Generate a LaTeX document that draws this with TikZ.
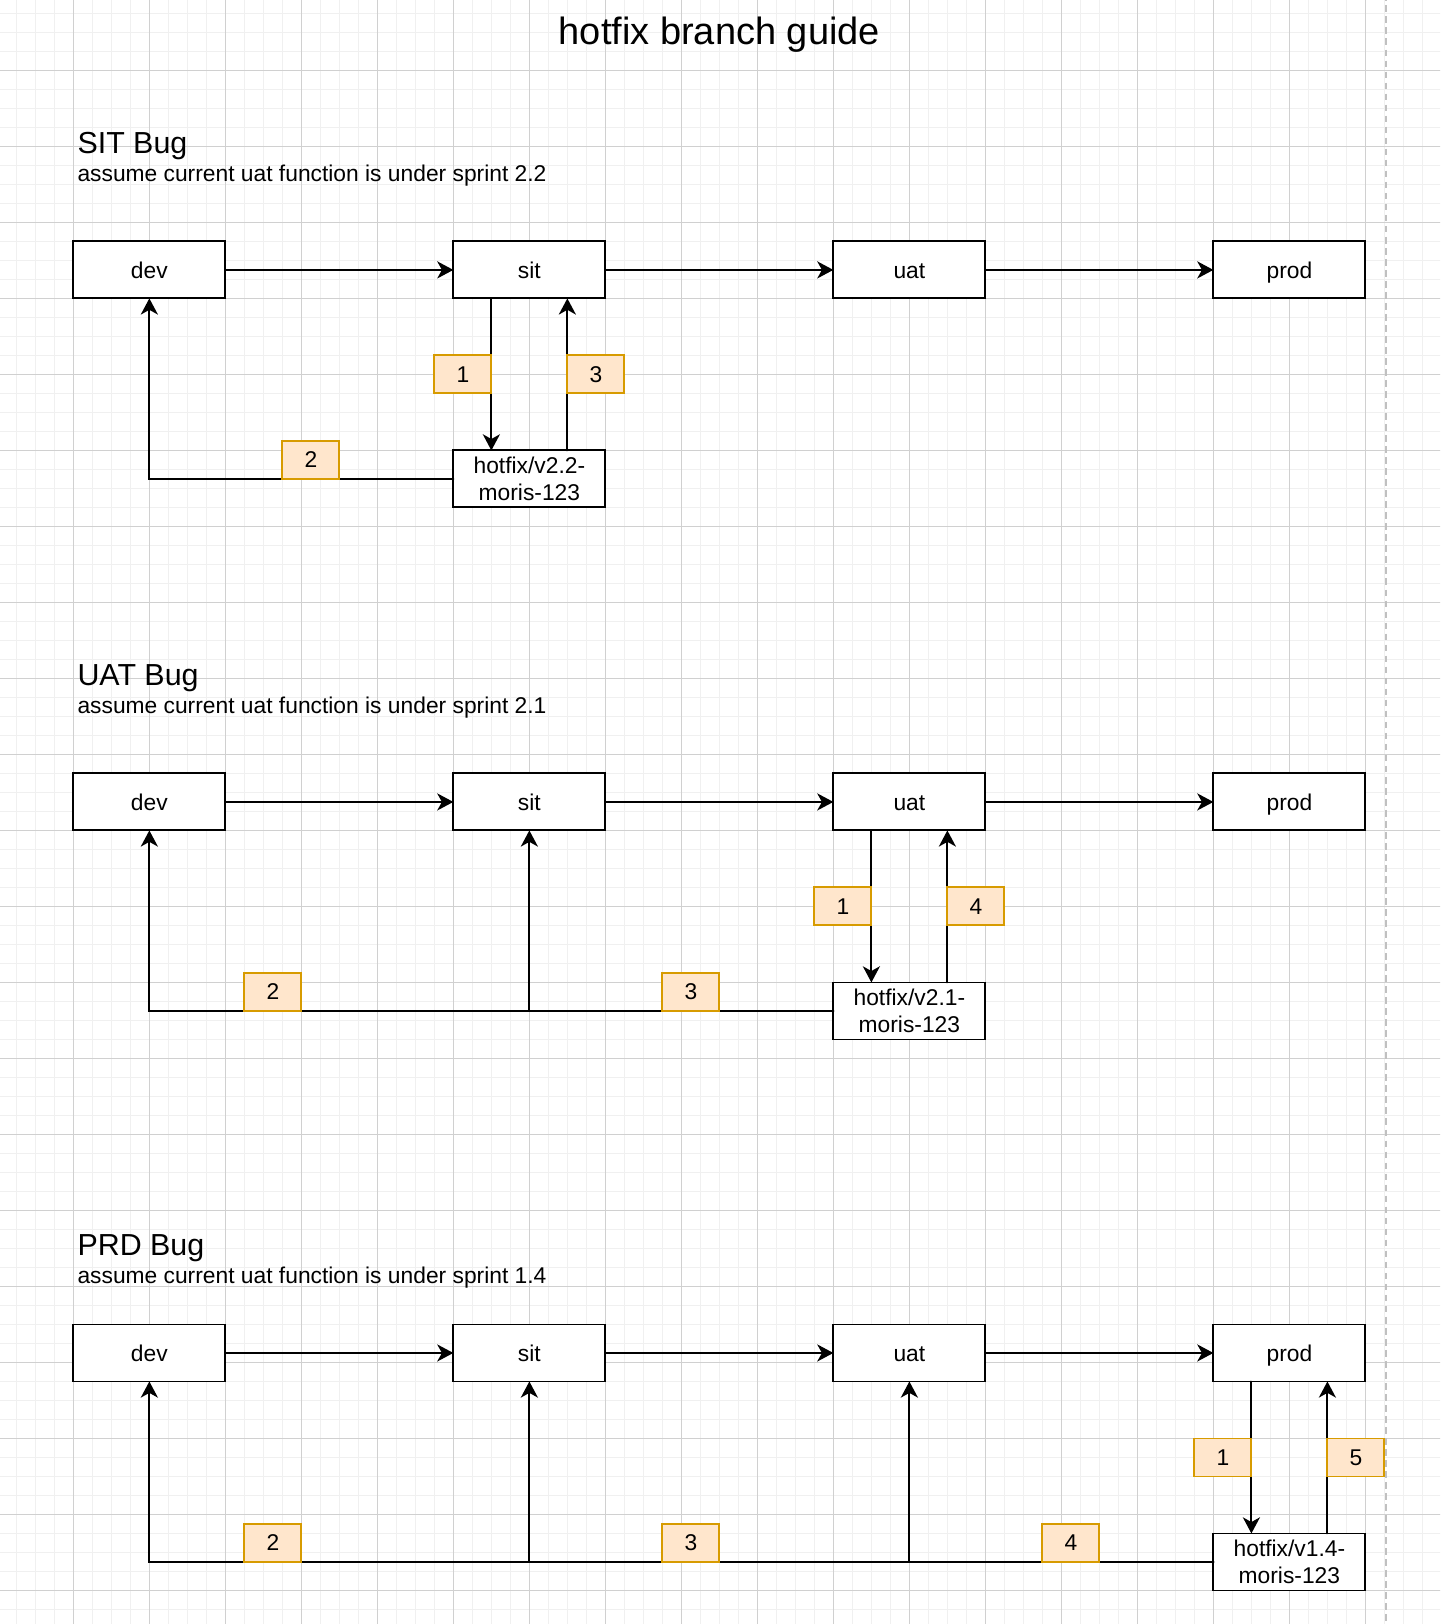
\documentclass[tikz,border=0pt]{standalone}
\usepackage{fontspec}
\setmainfont{Liberation Sans}
\usepackage{tikz}
\usetikzlibrary{arrows.meta,positioning}
\usepackage{xcolor}
\definecolor{tagfill}{HTML}{FFE6CC}
\definecolor{tagline}{HTML}{D79B00}
\definecolor{gridfine}{HTML}{F0F0F0}
\definecolor{gridbold}{HTML}{D0D0D0}
\definecolor{pageedge}{HTML}{C0C0C0}
\tikzset{
  mergearrow/.style={-{Stealth[length=8.5pt,width=9pt,inset=2.5pt]},line width=1pt,draw=black},
  envbox/.style={draw,line width=1pt,fill=white,minimum width=80pt,minimum height=30pt,inner sep=0pt,outer sep=0pt,align=center,font=\fontsize{12}{14.4}\selectfont},
  stagebox/.style={envbox,text height=8.6pt,text depth=0pt},
  steptag/.style={draw=tagline,fill=tagfill,line width=1pt,minimum width=30pt,minimum height=20pt,inner sep=0pt,outer sep=0pt,font=\fontsize{12}{14.4}\selectfont},
  minorline/.style={draw=gridfine,line width=0.8pt},
  majorline/.style={draw=gridbold,line width=0.5pt}
}

\begin{document}
\begin{tikzpicture}[x=1pt,y=-1pt,node distance=120pt,line cap=round]
  \useasboundingbox (1.4,2.95) rectangle (759.3,857.65);
  \clip (1.4,2.95) rectangle (759.3,857.65);
  % background grid
  \foreach \gx in {0,10,...,760} \draw[minorline] (\gx,0) -- (\gx,860);
  \foreach \gy in {0,10,...,860} \draw[minorline] (0,\gy) -- (760,\gy);
  \foreach \gx in {0,40,...,760} \draw[majorline] (\gx,0) -- (\gx,860);
  \foreach \gy in {0,40,...,840} \draw[majorline] (0,\gy) -- (760,\gy);
  \draw[draw=pageedge,line width=1pt,line cap=butt,dash pattern=on 3.5pt off 2.3pt] (731,0) -- (731,860);
  % title
  \node (title) [anchor=base,inner sep=0pt,font=\fontsize{20}{24}\selectfont] at (380,26.6) {hotfix branch guide};

  % SIT bug
  \node (head1) [anchor=base west,inner sep=0pt,font=\fontsize{16}{19.2}\selectfont] at (42,83.6) {SIT Bug};
  \node (note1) [anchor=base west,inner sep=0pt,font=\fontsize{12}{14.4}\selectfont] at (42,98.6) {assume current uat function is under sprint 2.2};
  \node (dev1) [stagebox] at (80,145) {dev};
  \node (sit1) [stagebox,right=of dev1] {sit};
  \node (uat1) [stagebox,right=of sit1] {uat};
  \node (prod1) [stagebox,right=of uat1] {prod};
  \node (fix1) [envbox,below=80pt of sit1] {hotfix/v2.2-\\moris-123};
  \draw[mergearrow] (dev1) -- (sit1);
  \draw[mergearrow] (sit1) -- (uat1);
  \draw[mergearrow] (uat1) -- (prod1);
  \draw[mergearrow] ([xshift=-20pt]sit1.south) -- ([xshift=-20pt]fix1.north);
  \draw[mergearrow] ([xshift=20pt]fix1.north) -- ([xshift=20pt]sit1.south);
  \draw[mergearrow] (fix1.west) -| (dev1.south);
  \node (tag11) [steptag] at (245,200) {1};
  \node (tag12) [steptag] at (165,245) {2};
  \node (tag13) [steptag] at (315,200) {3};

  % UAT bug
  \node (head2) [anchor=base west,inner sep=0pt,font=\fontsize{16}{19.2}\selectfont] at (42,363.5) {UAT Bug};
  \node (note2) [anchor=base west,inner sep=0pt,font=\fontsize{12}{14.4}\selectfont] at (42,378.7) {assume current uat function is under sprint 2.1};
  \node (dev2) [stagebox] at (80,425) {dev};
  \node (sit2) [stagebox,right=of dev2] {sit};
  \node (uat2) [stagebox,right=of sit2] {uat};
  \node (prod2) [stagebox,right=of uat2] {prod};
  \node (fix2) [envbox,below=80pt of uat2] {hotfix/v2.1-\\moris-123};
  \draw[mergearrow] (dev2) -- (sit2);
  \draw[mergearrow] (sit2) -- (uat2);
  \draw[mergearrow] (uat2) -- (prod2);
  \draw[mergearrow] ([xshift=-20pt]uat2.south) -- ([xshift=-20pt]fix2.north);
  \draw[mergearrow] ([xshift=20pt]fix2.north) -- ([xshift=20pt]uat2.south);
  \draw[mergearrow] (fix2.west) -| (sit2.south);
  \draw[mergearrow] (fix2.west) -| (dev2.south);
  \node (tag21) [steptag] at (445,480) {1};
  \node (tag22) [steptag] at (145,525) {2};
  \node (tag23) [steptag] at (365,525) {3};
  \node (tag24) [steptag] at (515,480) {4};

  % PRD bug
  \node (head3) [anchor=base west,inner sep=0pt,font=\fontsize{16}{19.2}\selectfont] at (42,663.5) {PRD Bug};
  \node (note3) [anchor=base west,inner sep=0pt,font=\fontsize{12}{14.4}\selectfont] at (42,678.4) {assume current uat function is under sprint 1.4};
  \node (dev3) [stagebox] at (80,715) {dev};
  \node (sit3) [stagebox,right=of dev3] {sit};
  \node (uat3) [stagebox,right=of sit3] {uat};
  \node (prod3) [stagebox,right=of uat3] {prod};
  \node (fix3) [envbox,below=80pt of prod3] {hotfix/v1.4-\\moris-123};
  \draw[mergearrow] (dev3) -- (sit3);
  \draw[mergearrow] (sit3) -- (uat3);
  \draw[mergearrow] (uat3) -- (prod3);
  \draw[mergearrow] ([xshift=-20pt]prod3.south) -- ([xshift=-20pt]fix3.north);
  \draw[mergearrow] ([xshift=20pt]fix3.north) -- ([xshift=20pt]prod3.south);
  \draw[mergearrow] (fix3.west) -| (uat3.south);
  \draw[mergearrow] (fix3.west) -| (sit3.south);
  \draw[mergearrow] (fix3.west) -| (dev3.south);
  \node (tag31) [steptag] at (645,770) {1};
  \node (tag32) [steptag] at (145,815) {2};
  \node (tag33) [steptag] at (365,815) {3};
  \node (tag34) [steptag] at (565,815) {4};
  \node (tag35) [steptag] at (715,770) {5};
\end{tikzpicture}
\end{document}
